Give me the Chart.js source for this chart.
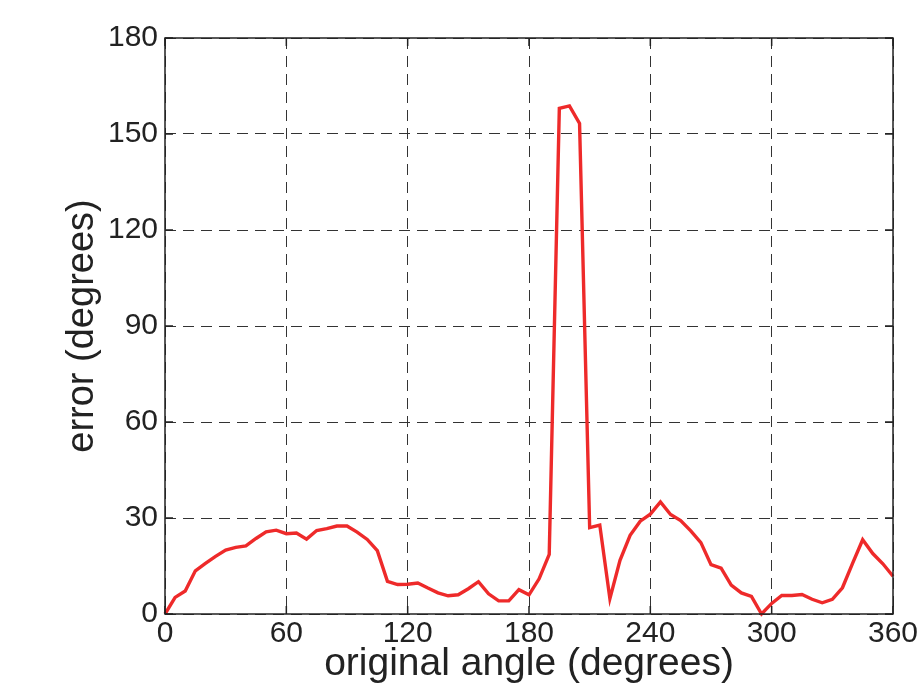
<!DOCTYPE html>
<html>
<head>
<meta charset="utf-8">
<title>error vs original angle</title>
<script src="https://cdn.jsdelivr.net/npm/chart.js@4.4.1/dist/chart.umd.min.js"></script>
<style>
  html, body { margin: 0; padding: 0; background: #fff; }
  #chart { display: block; }
</style>
</head>
<body>
<canvas id="chart" width="922" height="690"></canvas>
<script>
// Sampled angles (degrees)
const angles = [
  0, 5, 10, 15, 20, 25, 30, 35, 40, 45, 50, 55, 60, 65, 70, 75, 80, 85, 90,
  95, 100, 105, 110, 115, 120, 125, 130, 135, 140, 145, 150, 155, 160, 165,
  170, 175, 180, 185, 190, 195, 200, 205, 210, 215, 220, 225, 230, 235, 240,
  245, 250, 255, 260, 265, 270, 275, 280, 285, 290, 295, 300, 305, 310, 315,
  320, 325, 330, 335, 340, 345, 350, 355, 360,
];

// Estimation error at each angle (degrees)
const errors = [
  0, 5.2, 7.2, 13.5, 15.8, 18, 20, 20.8, 21.3, 23.6, 25.7, 26.2, 25.1, 25.3, 23.4, 26.1, 26.7, 27.5, 27.5,
  25.6, 23.3, 19.8, 10.2, 9.2, 9.3, 9.7, 8.1, 6.6, 5.7, 6.0, 7.9, 10.1, 6.3, 4.1,
  4.1, 7.6, 6.0, 11, 18.6, 158, 158.8, 153.3, 27, 27.8, 4.8, 16.8, 24.6, 29, 31.2,
  35, 31.1, 29.2, 26, 22.3, 15.4, 14.3, 9, 6.6, 5.5, 0, 3.3, 5.8, 5.8, 6.1,
  4.6, 3.5, 4.6, 8.2, 15.8, 23.2, 18.9, 15.7, 11.8,
];

const xTicks = [0, 60, 120, 180, 240, 300, 360];
const yTicks = [0, 30, 60, 90, 120, 150, 180];

const fontFamily = "'Liberation Sans', Arial, Helvetica, sans-serif";

// Box frame with short inward tick marks (MATLAB style)
const framePlugin = {
  id: "frame",
  afterDraw(chart) {
    const { ctx, chartArea: a, scales } = chart;
    const len = 8;
    ctx.save();
    ctx.strokeStyle = "#222";
    ctx.lineWidth = 1.5;
    ctx.strokeRect(a.left, a.top, a.right - a.left, a.bottom - a.top);
    ctx.beginPath();
    xTicks.forEach((v) => {
      const px = scales.x.getPixelForValue(v);
      ctx.moveTo(px, a.bottom);
      ctx.lineTo(px, a.bottom - len);
      ctx.moveTo(px, a.top);
      ctx.lineTo(px, a.top + len);
    });
    yTicks.forEach((v) => {
      const py = scales.y.getPixelForValue(v);
      ctx.moveTo(a.left, py);
      ctx.lineTo(a.left + len, py);
      ctx.moveTo(a.right, py);
      ctx.lineTo(a.right - len, py);
    });
    ctx.stroke();
    ctx.restore();
  },
};

new Chart(document.getElementById("chart"), {
  type: "line",
  data: {
    datasets: [
      {
        data: angles.map((a, i) => ({ x: a, y: errors[i] })),
        borderColor: "#ee2a2a",
        borderWidth: 3.4,
        pointRadius: 0,
        tension: 0,
        fill: false,
        clip: false,
      },
    ],
  },
  options: {
    responsive: false,
    animation: false,
    layout: { padding: { left: 0, right: 29, top: 38, bottom: 0 } },
    plugins: {
      legend: { display: false },
      tooltip: { enabled: false },
    },
    scales: {
      x: {
        type: "linear",
        min: 0,
        max: 360,
        afterBuildTicks: (scale) => {
          scale.ticks = xTicks.map((v) => ({ value: v }));
        },
        afterFit: (scale) => {
          scale.height = 76;
        },
        ticks: {
          color: "#222",
          padding: 2,
          maxRotation: 0,
          font: { family: fontFamily, size: 30 },
        },
        grid: { color: "#333", lineWidth: 1, drawTicks: false },
        border: { display: false, dash: [11, 7] },
        title: {
          display: true,
          text: "original angle (degrees)",
          color: "#222",
          padding: { top: 0, bottom: 2 },
          font: { family: fontFamily, size: 39 },
        },
      },
      y: {
        type: "linear",
        min: 0,
        max: 180,
        afterBuildTicks: (scale) => {
          scale.ticks = yTicks.map((v) => ({ value: v }));
        },
        afterFit: (scale) => {
          scale.width = 165;
        },
        ticks: {
          color: "#222",
          padding: 7,
          font: { family: fontFamily, size: 30 },
        },
        grid: { color: "#333", lineWidth: 1, drawTicks: false },
        border: { display: false, dash: [11, 7] },
        title: {
          display: true,
          text: "error (degrees)",
          color: "#222",
          padding: { top: 60, bottom: 0 },
          font: { family: fontFamily, size: 38 },
        },
      },
    },
  },
  plugins: [framePlugin],
});
</script>
</body>
</html>
